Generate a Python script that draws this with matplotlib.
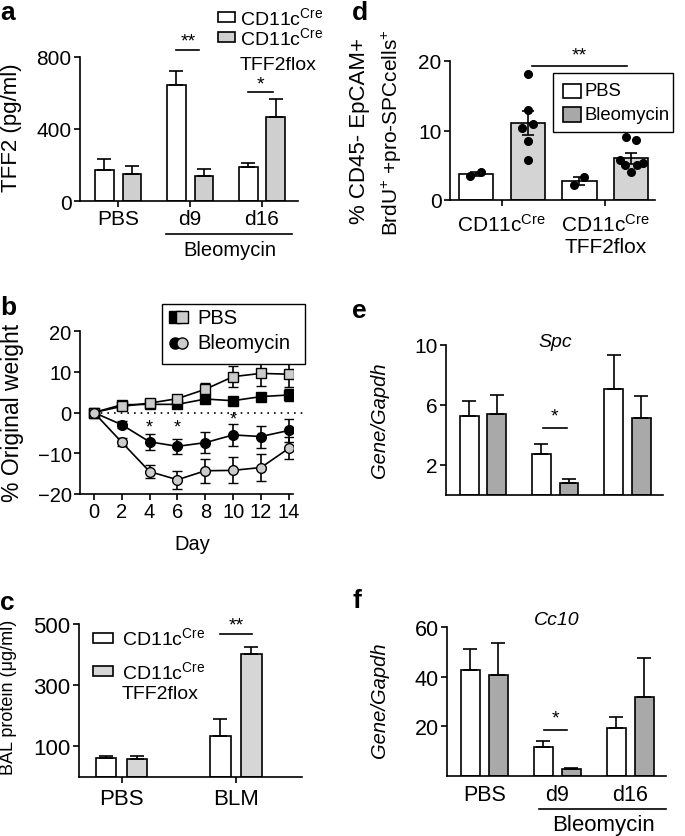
import numpy as np
import matplotlib
matplotlib.use("Agg")
import matplotlib.pyplot as plt
from matplotlib.patches import Rectangle
from matplotlib.lines import Line2D

plt.rcParams['font.family'] = ['Liberation Sans', 'DejaVu Sans']
plt.rcParams['mathtext.fontset'] = 'custom'
plt.rcParams['mathtext.rm'] = 'Liberation Sans'
plt.rcParams['mathtext.it'] = 'Liberation Sans:italic'
plt.rcParams['axes.linewidth'] = 1.2

W, H = 685, 837
CRE = 'CD11c$^{\\mathrm{Cre}}$'

# a: TFF2 ELISA
a_groups = ['PBS', 'd9', 'd16']
a_cre = [173, 642, 191]
a_cre_err = [58, 80, 18]
a_flox = [149, 138, 467]
a_flox_err = [46, 42, 100]

# b: weight change
b_days = [0, 2, 4, 6, 8, 10, 12, 14]
b_pbs_cre = [0, 1.9, 2.0, 2.0, 3.3, 2.9, 3.9, 4.3]
b_pbs_cre_err = [0, 0.6, 0.6, 0.6, 0.8, 0.8, 0.8, 1.5]
b_pbs_flox = [0, 1.5, 2.3, 3.4, 5.7, 8.8, 9.6, 9.4]
b_pbs_flox_err = [0, 0.8, 0.8, 0.8, 1.5, 2.6, 3.0, 3.1]
b_blm_cre = [0, -3.0, -7.2, -8.3, -7.4, -5.5, -5.9, -4.4]
b_blm_cre_err = [0, 0.8, 2.0, 1.9, 2.5, 2.7, 2.7, 2.8]
b_blm_flox = [0, -7.3, -14.5, -16.5, -14.3, -14.2, -13.5, -8.8]
b_blm_flox_err = [0, 1.0, 1.6, 2.2, 3.0, 3.2, 3.4, 2.7]

# c: BAL protein
c_groups = ['PBS', 'BLM']
c_cre = [61, 133]
c_cre_err = [8, 57]
c_flox = [60, 401]
c_flox_err = [7, 25]

# d: proliferating AT2 cells
d_groups = [CRE, CRE + '\nTFF2flox']
d_pbs = [3.7, 2.7]
d_pbs_err = [0.3, 0.6]
d_blm = [11.1, 6.0]
d_blm_err = [1.7, 0.75]
d_pbs_pts = [[3.4, 4.0], [2.2, 3.3]]
d_blm_pts = [[18.1, 13.0, 10.3, 10.9, 8.5, 5.7], [9.0, 8.7, 5.7, 5.0, 5.0, 5.3, 4.0]]

# e: Spc expression
e_cre = [5.27, 2.73, 7.04]
e_cre_err = [1.0, 0.69, 2.29]
e_flox = [5.4, 0.8, 5.15]
e_flox_err = [1.24, 0.24, 1.45]

# f: Cc10 expression
f_cre = [42.8, 11.5, 19.2]
f_cre_err = [8.3, 2.6, 4.5]
f_flox = [40.5, 2.95, 31.9]
f_flox_err = [13.0, 0.3, 15.8]

fig = plt.figure(figsize=(W / 100, H / 100), dpi=100)


def place(l, t, r, b):
    return fig.add_axes([l / W, 1 - b / H, (r - l) / W, (b - t) / H])


def ftext(x, y, s, **kw):
    return fig.text(x / W, 1 - y / H, s, **kw)


def fbox(x0, y0, x1, y1, fc, lw=1.2):
    fig.add_artist(Rectangle((x0 / W, 1 - y1 / H), (x1 - x0) / W, (y1 - y0) / H,
                             transform=fig.transFigure, fc=fc, ec='black', lw=lw))


def style(ax, size=15):
    for s in ['top', 'right']:
        ax.spines[s].set_visible(False)
    ax.tick_params(direction='out', length=4, width=1.2, labelsize=size, pad=2)


def bars(ax, vals, errs, x, w, fc, cap):
    n = len(vals)
    ax.bar(x, vals, w, color=fc, edgecolor='black', lw=1.2,
           yerr=[np.zeros(n), errs], capsize=cap,
           error_kw=dict(lw=1.2, capthick=1.2, ecolor='black'))


def sig(ax, x0, x1, y, ty, s, size=14):
    ax.plot([x0, x1], [y, y], color='black', lw=1.2, clip_on=False)
    ax.text((x0 + x1) / 2, ty, s, ha='center', va='center', fontsize=size)


# ---------- a ----------
ax = place(80, 58, 298, 202)
x = np.arange(len(a_groups))
bars(ax, a_cre, a_cre_err, x - 0.19, 0.257, 'white', 5)
bars(ax, a_flox, a_flox_err, x + 0.19, 0.257, '#cfcfcf', 5)
ax.set_xlim(-0.53, 2.5)
ax.set_ylim(0, 800)
ax.set_yticks([0, 400, 800])
ax.set_xticks(x)
ax.set_xticklabels(a_groups)
style(ax)
sig(ax, 0.81, 1.13, 841, 890, '**')
sig(ax, 1.81, 2.15, 604, 650, '*')
tr = ax.get_xaxis_transform()
ax.plot([0.67, 2.42], [-0.229, -0.229], color='black', lw=1.2, transform=tr, clip_on=False)
ax.text(1.55, -0.335, 'Bleomycin', ha='center', va='center', fontsize=14.5, transform=tr)
ftext(12, 128, 'TFF2 (pg/ml)', rotation=90, ha='center', va='center', fontsize=16)
fbox(218, 13, 235, 23, 'white')
fbox(218, 33, 235, 43, '#cfcfcf')
ftext(240, 18, CRE, va='center', fontsize=14)
ftext(240, 38, CRE, va='center', fontsize=14)
ftext(240, 66, 'TFF2flox', va='center', fontsize=14)

# ---------- b ----------
ax = place(80, 332, 293, 495)
ax.plot([0, 15], [0, 0], color='black', lw=1.2, ls=(0, (1, 3)), clip_on=False)
series = [(b_pbs_cre, b_pbs_cre_err, 's', 'black'),
          (b_pbs_flox, b_pbs_flox_err, 's', '#cccccc'),
          (b_blm_cre, b_blm_cre_err, 'o', 'black'),
          (b_blm_flox, b_blm_flox_err, 'o', '#cccccc')]
for vals, errs, mk, fc in series:
    ax.errorbar(b_days, vals, yerr=errs, color='black', lw=1.2, capsize=3.5, capthick=1.2,
                marker=mk, ms=7, mfc=fc, mec='black', mew=1.0)
for d, yy in [(4, -3.6), (6, -3.6), (10, -1.6)]:
    ax.text(d, yy, '*', ha='center', va='center', fontsize=13)
ax.set_xlim(-1.0, 14.3)
ax.set_ylim(-20, 20)
ax.set_yticks([-20, -10, 0, 10, 20])
ax.set_xticks(b_days)
style(ax, 14.5)
ftext(192, 545, 'Day', ha='center', va='center', fontsize=14.5)
ftext(13, 413, '% Original weight', rotation=90, ha='center', va='center', fontsize=16.5)
fbox(162, 305, 305, 365, 'white', lw=1.0)
for xx, fc in [(175, 'black'), (182, '#cccccc')]:
    fig.add_artist(Line2D([xx / W], [1 - 318 / H], transform=fig.transFigure, marker='s',
                          ms=8, mfc=fc, mec='black', mew=1.0))
    fig.add_artist(Line2D([xx / W], [1 - 344 / H], transform=fig.transFigure, marker='o',
                          ms=8, mfc=fc, mec='black', mew=1.0))
ftext(197, 318, 'PBS', va='center', fontsize=14.5)
ftext(197, 344, 'Bleomycin', va='center', fontsize=14.5)

# ---------- c ----------
ax = place(79, 625, 302, 778)
x = np.arange(len(c_groups))
bars(ax, c_cre, c_cre_err, x - 0.136, 0.18, 'white', 5)
bars(ax, c_flox, c_flox_err, x + 0.136, 0.18, '#d6d6d6', 5)
ax.set_xlim(-0.373, 1.58)
ax.set_ylim(0, 500)
ax.set_yticks([100, 300, 500])
ax.set_xticks(x)
ax.set_xticklabels(c_groups, fontsize=16)
style(ax, 16)
ax.tick_params(axis='x', pad=4)
sig(ax, 0.864, 1.14, 467, 497, '**')
ftext(9, 697, 'BAL protein (\u03bcg/ml)', rotation=90, ha='center', va='center', fontsize=13)
fbox(93, 634, 113, 644, 'white')
fbox(93, 667, 113, 677, '#d6d6d6')
ftext(122, 638, CRE, va='center', fontsize=14)
ftext(122, 672, CRE, va='center', fontsize=14)
ftext(122, 695, 'TFF2flox', va='center', fontsize=14)

# ---------- d ----------
ax = place(450, 62, 655, 201)
x = np.arange(len(d_groups))
ax.bar(x - 0.25, d_pbs, 0.33, color='white', edgecolor='black', lw=1.2)
ax.bar(x + 0.25, d_blm, 0.33, color='#d4d4d4', edgecolor='black', lw=1.2)
ax.errorbar(x - 0.25, d_pbs, yerr=d_pbs_err, fmt='none', ecolor='black', lw=1.2,
            capsize=4.5, capthick=1.2, zorder=3)
ax.errorbar(x + 0.25, d_blm, yerr=d_blm_err, fmt='none', ecolor='black', lw=1.2,
            capsize=4.5, capthick=1.2, zorder=3)
jit_pbs = [[-0.053, 0.048], [-0.048, 0.048]]
jit_blm = [[0, 0, -0.053, 0.053, 0, 0], [-0.05, 0.045, -0.11, -0.057, 0.054, 0.11, 0]]
for i in range(len(d_groups)):
    ax.plot(x[i] - 0.25 + np.array(jit_pbs[i]), d_pbs_pts[i], 'o', color='black', ms=5.5, zorder=4)
    ax.plot(x[i] + 0.25 + np.array(jit_blm[i]), d_blm_pts[i], 'o', color='black', ms=5.5, zorder=4)
ax.set_xlim(-0.5, 1.48)
ax.set_ylim(0, 20)
ax.set_yticks([0, 10, 20])
ax.set_xticks(x)
ax.set_xticklabels(d_groups)
style(ax)
ax.tick_params(axis='x', pad=5)
sig(ax, 0.29, 1.21, 19.3, 20.8, '**')
ftext(360, 131, '% CD45- EpCAM+', rotation=90, ha='center', va='center', fontsize=16)
ftext(392, 133, 'BrdU$^{+}$ +pro-SPCcells$^{+}$', rotation=90, ha='center', va='center', fontsize=15)
fbox(553, 74, 673, 133, 'white', lw=1.0)
fbox(563, 85, 581, 99, 'white')
fbox(563, 108, 581, 123, '#a8a8a8')
ftext(585, 92, 'PBS', va='center', fontsize=13.3)
ftext(585, 115, 'Bleomycin', va='center', fontsize=13.3)

# ---------- e ----------
ax = place(446, 346, 663, 496)
x = np.arange(3)
bars(ax, e_cre, e_cre_err, x - 0.19, 0.26, 'white', 5)
bars(ax, e_flox, e_flox_err, x + 0.19, 0.26, '#a9a9a9', 5)
ax.set_xlim(-0.51, 2.49)
ax.set_ylim(0, 10)
ax.set_yticks([2, 6, 10])
ax.set_xticks([])
style(ax, 15)
sig(ax, 0.83, 1.16, 4.49, 5.3, '*')
ax.text(1.0, 1.02, 'Spc', style='italic', ha='center', va='center', fontsize=14,
        transform=ax.get_xaxis_transform())
ftext(380, 420, 'Gene/Gapdh', style='italic', rotation=90, ha='center', va='center', fontsize=14.5)

# ---------- f ----------
ax = place(447, 628, 666, 777)
bars(ax, f_cre, f_cre_err, x - 0.19, 0.26, 'white', 5)
bars(ax, f_flox, f_flox_err, x + 0.19, 0.26, '#a9a9a9', 5)
ax.set_xlim(-0.51, 2.49)
ax.set_ylim(0, 60)
ax.set_yticks([20, 40, 60])
ax.set_xticks(x)
ax.set_xticklabels(a_groups)
style(ax, 15.5)
ax.tick_params(axis='x', length=0, pad=6)
sig(ax, 0.82, 1.14, 18.5, 23.5, '*')
tr = ax.get_xaxis_transform()
ax.text(1.0, 1.05, 'Cc10', style='italic', ha='center', va='center', fontsize=14, transform=tr)
ax.plot([0.75, 2.49], [-0.221, -0.221], color='black', lw=1.2, transform=tr, clip_on=False)
ax.text(1.63, -0.325, 'Bleomycin', ha='center', va='center', fontsize=16, transform=tr)
ftext(380, 700, 'Gene/Gapdh', style='italic', rotation=90, ha='center', va='center', fontsize=14.5)

# panel letters
ftext(0, 1, 'a', ha='left', va='top', fontsize=19, fontweight='bold')
for lx, ly, s in [(0, 315, 'b'), (0, 610, 'c'),
                  (352, 20, 'd'), (352, 318, 'e'), (353, 608, 'f')]:
    ftext(lx, ly, s, ha='left', va='baseline', fontsize=19, fontweight='bold')

fig.savefig('out.png', dpi=100)
